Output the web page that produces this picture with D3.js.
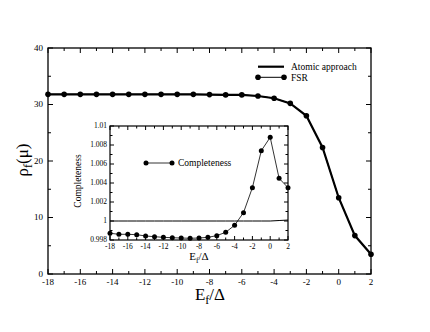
<!DOCTYPE html>
<html><head><meta charset="utf-8">
<script src="https://cdn.jsdelivr.net/npm/d3@7"></script>
<style>body{margin:0;background:#fff}svg{display:block}</style>
</head><body>
<svg id="c" width="430" height="332" font-family="'Liberation Serif', 'DejaVu Serif', serif"></svg>
<script>
const energies = [-18,-17,-16,-15,-14,-13,-12,-11,-10,-9,-8,-7,-6,-5,-4,-3,-2,-1,0,1,2];
const fsrValues = [31.8,31.8,31.8,31.8,31.8,31.8,31.8,31.8,31.8,31.8,31.75,31.7,31.7,31.5,31.1,30.2,28.0,22.4,13.5,6.8,3.5];
const atomicValues = [31.8,31.8,31.8,31.8,31.8,31.8,31.8,31.8,31.8,31.8,31.75,31.7,31.7,31.5,31.1,30.2,28.0,22.4,13.5,6.8,3.5];
const completeness = [0.99871,0.99860,0.99860,0.99856,0.99842,0.99835,0.99828,0.99824,0.99821,0.99818,0.99821,0.99828,0.99846,0.99881,0.99955,1.00088,1.00351,1.00740,1.00881,1.00449,1.00351];
const insetRef = [1,1,1,1,1,1,1,1,1,1,1,1,1,1,1,1,1,1,1,1.00005,1.0001];
const mainXTicks = [-18,-16,-14,-12,-10,-8,-6,-4,-2,0,2];
const mainYTicks = [0,10,20,30,40];
const insetXTicks = [-18,-16,-14,-12,-10,-8,-6,-4,-2,0,2];
const insetYTicks = [0.998,1,1.002,1.004,1.006,1.008,1.01];
const insetYLabels = ["0.998","1","1.002","1.004","1.006","1.008","1.01"];

const FONT = "'Liberation Serif', 'DejaVu Serif', serif";
const svg = d3.select("#c");

function T(g){ return g.append("text").attr("font-family",FONT).attr("fill","#000"); }

function frame(g, x, y, xt, xminor, yt, yminor, maj, min, fs, ylab, lw, xoff, yoff) {
  const [x0,x1] = x.range(), [y0,y1] = y.range();
  g.append("rect").attr("x",x0).attr("y",y1).attr("width",x1-x0).attr("height",y0-y1)
    .attr("fill","none").attr("stroke","#000").attr("stroke-width",lw);
  const tk = g.append("g").attr("stroke","#000").attr("stroke-width",1);
  xminor.forEach(v=>{ const len = xt.includes(v)?maj:min; const px=x(v);
    tk.append("line").attr("x1",px).attr("x2",px).attr("y1",y0).attr("y2",y0-len);
    tk.append("line").attr("x1",px).attr("x2",px).attr("y1",y1).attr("y2",y1+len); });
  yminor.forEach(v=>{ const len = yt.some(t=>Math.abs(t-v)<1e-9)?maj:min; const py=y(v);
    tk.append("line").attr("y1",py).attr("y2",py).attr("x1",x0).attr("x2",x0+len);
    tk.append("line").attr("y1",py).attr("y2",py).attr("x1",x1).attr("x2",x1-len); });
  xt.forEach(v=> T(g).attr("x",x(v)).attr("y",y0+xoff).attr("text-anchor","middle")
    .attr("font-size",fs).text(v));
  yt.forEach((v,i)=> T(g).attr("x",x0-yoff).attr("y",y(v)).attr("dy","0.33em").attr("text-anchor","end")
    .attr("font-size",fs).text(ylab?ylab[i]:v));
}

// Main
const x = d3.scaleLinear().domain([-18,2]).range([48,371]);
const y = d3.scaleLinear().domain([0,40]).range([274,48]);
const main = svg.append("g");
frame(main, x, y, mainXTicks, d3.range(-18,3,1), mainYTicks, d3.range(0,41,5), 5, 3, 9, null, 1.3, 10.5, 5);

const line = d3.line().x((d,i)=>x(energies[i])).y(d=>y(d));
main.append("path").datum(atomicValues).attr("d",line).attr("fill","none").attr("stroke","#000").attr("stroke-width",2.2);
main.append("path").datum(fsrValues).attr("d",line).attr("fill","none").attr("stroke","#000").attr("stroke-width",1);
main.selectAll("circle.f").data(fsrValues).join("circle").attr("cx",(d,i)=>x(energies[i])).attr("cy",d=>y(d)).attr("r",2.8).attr("fill","#000");

// main legend
main.append("line").attr("x1",258).attr("x2",284).attr("y1",66.7).attr("y2",66.7).attr("stroke","#000").attr("stroke-width",2.2);
T(main).attr("x",291).attr("y",66.7).attr("dy","0.35em").attr("font-size",9.5).text("Atomic approach");
main.append("line").attr("x1",258).attr("x2",284).attr("y1",77.3).attr("y2",77.3).attr("stroke","#000").attr("stroke-width",1);
[258,284].forEach(px=>main.append("circle").attr("cx",px).attr("cy",77.3).attr("r",2.8).attr("fill","#000"));
T(main).attr("x",291).attr("y",77.3).attr("dy","0.35em").attr("font-size",9.5).text("FSR");

// axis labels
const xl = T(main).attr("x",210).attr("y",300).attr("text-anchor","middle").attr("font-size",17);
xl.append("tspan").text("E");
xl.append("tspan").attr("font-size",12).attr("dy",4).text("f");
xl.append("tspan").attr("dy",-4).text("/\u0394");
const yl = T(main).attr("transform","translate(28,160) rotate(-90)").attr("text-anchor","middle").attr("font-size",17);
yl.append("tspan").text("\u03C1");
yl.append("tspan").attr("font-size",12).attr("dy",4).text("f");
yl.append("tspan").attr("dy",-4).text("(\u03BC)");

// Inset
const ix = d3.scaleLinear().domain([-18,2]).range([110,288]);
const iy = d3.scaleLinear().domain([0.998,1.01]).range([240,126]);
const ins = svg.append("g");
ins.append("rect").attr("x",110).attr("y",126).attr("width",178).attr("height",114).attr("fill","#fff");
frame(ins, ix, iy, insetXTicks, d3.range(-18,3,1), insetYTicks, d3.range(0,13).map(k=>0.998+k*0.001), 4, 2.5, 7.5, insetYLabels, 1.2, 8.5, 3);
const iline = d3.line().x((d,i)=>ix(energies[i])).y(d=>iy(d));
ins.append("path").datum(insetRef).attr("d",iline).attr("fill","none").attr("stroke","#000").attr("stroke-width",1);
ins.append("path").datum(completeness).attr("d",iline).attr("fill","none").attr("stroke","#000").attr("stroke-width",0.8);
ins.selectAll("circle.c").data(completeness).join("circle").attr("cx",(d,i)=>ix(energies[i])).attr("cy",d=>iy(d)).attr("r",2.5).attr("fill","#000");
ins.append("line").attr("x1",146).attr("x2",172).attr("y1",163).attr("y2",163).attr("stroke","#000").attr("stroke-width",0.8);
[146,172].forEach(px=>ins.append("circle").attr("cx",px).attr("cy",163).attr("r",2.5).attr("fill","#000"));
T(ins).attr("x",178).attr("y",163).attr("dy","0.35em").attr("font-size",9.5).text("Completeness");
const ixl = T(ins).attr("x",199).attr("y",260).attr("text-anchor","middle").attr("font-size",11);
ixl.append("tspan").text("E");
ixl.append("tspan").attr("font-size",7.5).attr("dy",2.5).text("f");
ixl.append("tspan").attr("dy",-2.5).text("/\u0394");
T(ins).attr("transform","translate(81,181) rotate(-90)").attr("text-anchor","middle").attr("font-size",9.5).text("Completeness");
</script>
</body></html>
